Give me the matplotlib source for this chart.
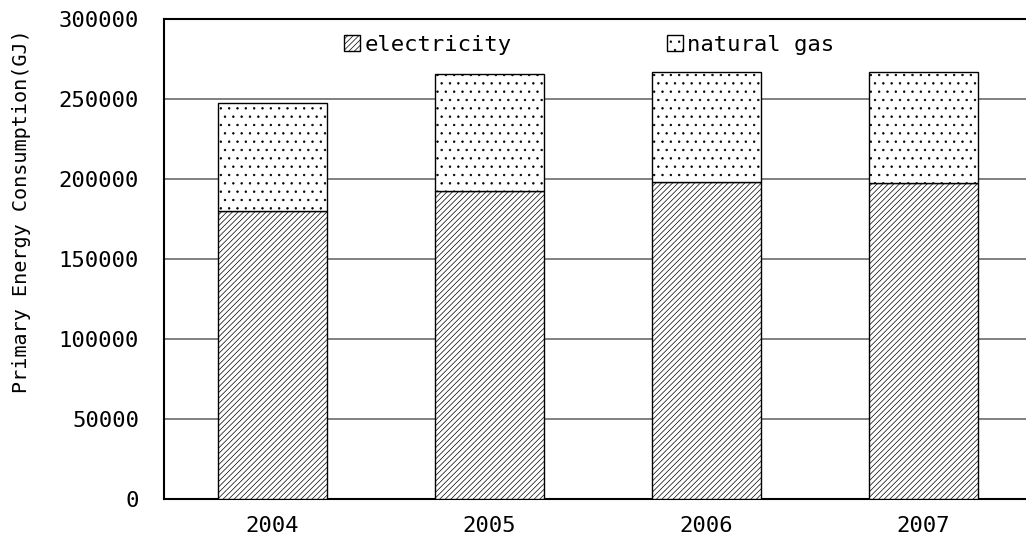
import matplotlib
matplotlib.use("Agg")
import matplotlib.pyplot as plt
import numpy as np

years = ["2004", "2005", "2006", "2007"]
electricity = [180000, 192500, 198000, 197500]
natural_gas = [67500, 73000, 69000, 69500]
yticks = [0, 50000, 100000, 150000, 200000, 250000, 300000]

plt.rcParams['font.family'] = ['DejaVu Sans Mono']
plt.rcParams['hatch.linewidth'] = 0.5

fig = plt.figure(figsize=(10.26, 5.47), dpi=100)
ax = fig.add_axes([164 / 1026, 48 / 547, 868 / 1026, 480 / 547])

x = np.arange(len(years))
ax.bar(x, electricity, width=0.5, color="white", edgecolor="black",
       hatch="//////", linewidth=1, label="electricity", zorder=3)
ax.bar(x, natural_gas, width=0.5, bottom=electricity, color="white",
       edgecolor="black", hatch="..", linewidth=1, label="natural gas", zorder=3)

ax.set_xlim(-0.5, 3.5)
ax.set_ylim(0, 300000)
ax.set_xticks(x)
ax.set_xticklabels(years, fontsize=16)
ax.set_yticks(yticks)
ax.set_yticklabels([str(v) for v in yticks], fontsize=16)
ax.tick_params(length=0, pad=12)
ax.tick_params(axis='y', pad=18)
ax.yaxis.grid(True, color="#808080", linewidth=1.4, zorder=0)
ax.set_axisbelow(True)
ax.set_ylabel("Primary Energy Consumption(GJ)", fontsize=14.5)
ax.yaxis.set_label_coords(-0.153, 0.6)

for side in ["left", "top", "bottom"]:
    ax.spines[side].set_color("black")
    ax.spines[side].set_linewidth(1.5)
ax.spines["right"].set_visible(False)

ax.legend(loc="center", bbox_to_anchor=(0.49, 0.946), ncol=2, frameon=False,
          fontsize=16, handlelength=0.7, handleheight=0.7, handletextpad=0.2,
          columnspacing=7.0)

fig.savefig("out.png", dpi=100)
